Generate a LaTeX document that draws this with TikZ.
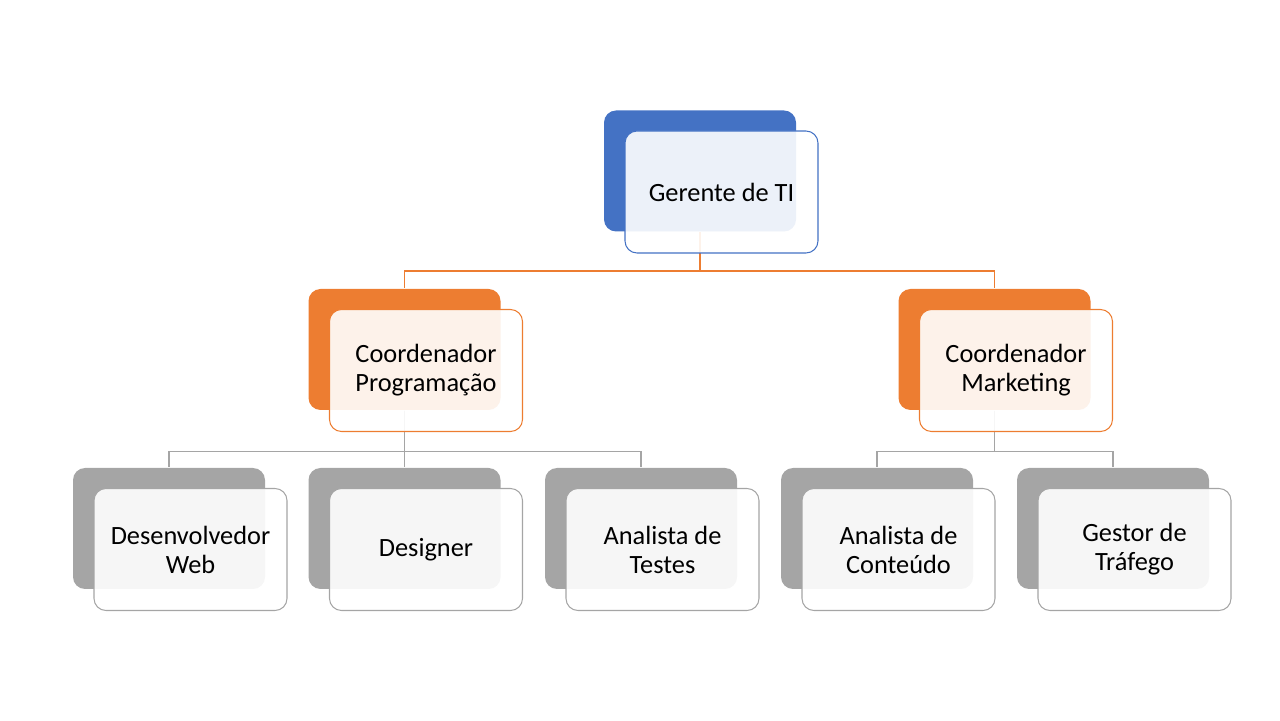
\documentclass[tikz,border=0pt]{standalone}
\usepackage{fontspec}
\setmainfont{Carlito}
\definecolor{gerente}{RGB}{68,114,196}
\definecolor{coordenador}{RGB}{237,125,49}
\definecolor{equipe}{RGB}{165,165,165}
\tikzstyle{every path}=[line width=0.6pt]
\tikzstyle{back} = [rounded corners=0.24cm, minimum width=3.84cm, minimum height=2.42cm, inner sep=0pt]
\tikzstyle{front} = [rounded corners=0.24cm, minimum width=3.86cm, minimum height=2.44cm, inner sep=0pt,
    fill=white, fill opacity=0.9, text opacity=1, align=center, font=\fontsize{15}{16.5}\selectfont]
\tikzstyle{shifted} = [shift={(0.43,-0.42)}]

\begin{document}
\begin{tikzpicture}
            \useasboundingbox (0,0) rectangle (25.6,14.4);

            \node[back, fill=gerente] (gerenteB) at (14.0, 10.98) {};
            \node[back, fill=coordenador] (progB) at (8.09, 7.41) {};
            \node[back, fill=coordenador] (mktB) at (19.89, 7.41) {};
            \foreach \x/\n in {3.38/devB, 8.09/designB, 12.82/testesB, 17.54/conteudoB, 22.26/trafegoB}
                \node[back, fill=equipe] (\n) at (\x, 3.83) {};

            \draw[coordenador] (gerenteB.south) -- ++(0,-0.78) -| (progB.north);
            \draw[coordenador] (gerenteB.south) -- ++(0,-0.78) -| (mktB.north);
            \foreach \n in {devB, designB, testesB}
                \draw[equipe] (progB.south) -- ++(0,-0.82) -| (\n.north);
            \foreach \n in {conteudoB, trafegoB}
                \draw[equipe] (mktB.south) -- ++(0,-0.82) -| (\n.north);

            \node[front, draw=gerente] (gerente) at ([shifted]gerenteB.center) {Gerente de TI};
            \node[front, draw=coordenador] (prog) at ([shifted]progB.center) {Coordenador\\Programação};
            \node[front, draw=coordenador] (mkt) at ([shifted]mktB.center) {Coordenador\\Marketing};
            \node[front, draw=equipe] (dev) at ([shifted]devB.center) {Desenvolvedor\\Web};
            \node[front, draw=equipe] (design) at ([shifted]designB.center) {Designer};
            \node[front, draw=equipe] (testes) at ([shifted]testesB.center) {Analista de\\Testes};
            \node[front, draw=equipe] (conteudo) at ([shifted]conteudoB.center) {Analista de\\Conteúdo};
            \node[front, draw=equipe] (trafego) at ([shifted]trafegoB.center) {Gestor de\\Tráfego};
        \end{tikzpicture}
\end{document}
